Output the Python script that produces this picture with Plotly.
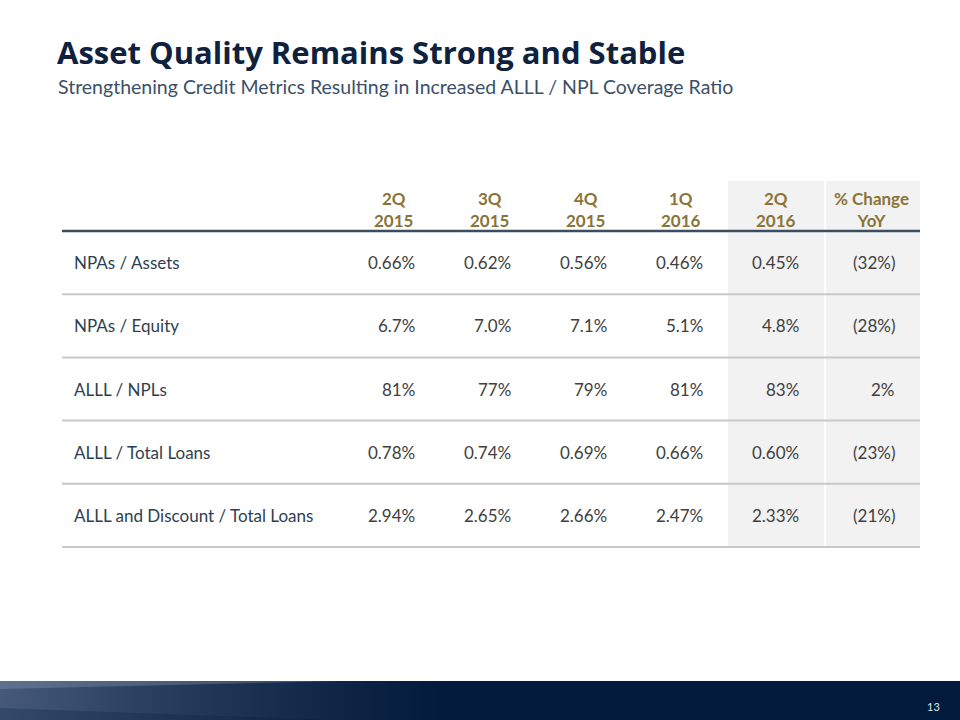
import plotly.graph_objects as go

# ---------------- data ----------------
title = "Asset Quality Remains Strong and Stable"
subtitle = "Strengthening Credit Metrics Resulting in Increased ALLL / NPL Coverage Ratio"
col_top = ["2Q", "3Q", "4Q", "1Q", "2Q", "% Change"]
col_bottom = ["2015", "2015", "2015", "2016", "2016", "YoY"]
row_labels = ["NPAs / Assets", "NPAs / Equity", "ALLL / NPLs",
              "ALLL / Total Loans", "ALLL and Discount / Total Loans"]
q2_2015 = ["0.66%", "6.7%", "81%", "0.78%", "2.94%"]
q3_2015 = ["0.62%", "7.0%", "77%", "0.74%", "2.65%"]
q4_2015 = ["0.56%", "7.1%", "79%", "0.69%", "2.66%"]
q1_2016 = ["0.46%", "5.1%", "81%", "0.66%", "2.47%"]
q2_2016 = ["0.45%", "4.8%", "83%", "0.60%", "2.33%"]
chg_yoy = ["(32%)", "(28%)", "2%", "(23%)", "(21%)"]
page_number = "13"

columns = [q2_2015, q3_2015, q4_2015, q1_2016, q2_2016, chg_yoy]

# ---------------- layout geometry (pixels) ----------------
W, H = 960, 720
FONT = "Lato"
NAVY = "#0e2240"
GOLD = "#8a7437"
TEXT = "#404040"
LABEL = "#2e3f52"
FS = 17

tbl_left, tbl_right = 62, 920
hdr_top, hdr_bot = 181, 231
row_h = 63.2
col_centers = [393, 489, 585, 681, 776, 871]
col_value_right = [417, 513, 609, 705, 801, 897]
shade_cols = [(728, 824), (826, 920)]

shapes = []
annotations = []

# shaded columns
table_bottom = hdr_bot + row_h * len(row_labels)
for x0, x1 in shade_cols:
    shapes.append(dict(type="rect", xref="x", yref="y", x0=x0, x1=x1,
                       y0=hdr_top, y1=table_bottom, fillcolor="#f2f2f2",
                       line=dict(width=0), layer="below"))

# header thick line
shapes.append(dict(type="line", xref="x", yref="y", x0=tbl_left, x1=tbl_right,
                   y0=hdr_bot, y1=hdr_bot, line=dict(color="#3b4d62", width=2.5)))

# row separators
for i in range(len(row_labels)):
    yl = hdr_bot + row_h * (i + 1)
    shapes.append(dict(type="line", xref="x", yref="y", x0=tbl_left, x1=tbl_right,
                       y0=yl, y1=yl, line=dict(color="#c8c8c8", width=2)))

# header text
for c, (t, b) in enumerate(zip(col_top, col_bottom)):
    annotations.append(dict(x=col_centers[c], y=(hdr_top + hdr_bot) / 2 + 3,
                            xref="x", yref="y", text=f"<b>{t}<br>{b}</b>",
                            showarrow=False, xanchor="center", yanchor="middle",
                            align="center",
                            font=dict(family=FONT, size=FS, color=GOLD)))

# rows
for r, lab in enumerate(row_labels):
    yc = hdr_bot + row_h * r + row_h / 2
    annotations.append(dict(x=72, y=yc, xref="x", yref="y", text=lab,
                            showarrow=False, xanchor="left", yanchor="middle",
                            font=dict(family=FONT, size=FS, color=LABEL)))
    for c, col in enumerate(columns):
        annotations.append(dict(x=col_value_right[c], y=yc, xref="x", yref="y",
                                text=col[r], showarrow=False, xanchor="right",
                                yanchor="middle",
                                font=dict(family=FONT, size=FS, color=TEXT)))

# title / subtitle
annotations.append(dict(x=55, y=52, xref="x", yref="y", text=f"<b>{title}</b>",
                        showarrow=False, xanchor="left", yanchor="middle",
                        font=dict(family="Open Sans", size=31, color=NAVY)))
annotations.append(dict(x=56, y=86, xref="x", yref="y", text=subtitle,
                        showarrow=False, xanchor="left", yanchor="middle",
                        font=dict(family=FONT, size=19.5, color="#3b5068")))

# footer band (smooth gradient via heatmap)
foot_top = 681
half = (H - foot_top) / 4
gx = [i * 10 for i in range(97)]
gz_row = [max(0.0, 1 - x / 460) ** 1.3 for x in gx]
fig = go.Figure()
fig.add_trace(go.Heatmap(x=gx, y=[foot_top + half, H - half], z=[gz_row, gz_row],
                         zmin=0, zmax=1, zsmooth="best", showscale=False,
                         hoverinfo="skip",
                         colorscale=[[0, "#021a3b"], [1, "#46597a"]]))
# light streak near top-left and darker lower wedge
shapes.append(dict(type="path", xref="x", yref="y",
                   path=f"M 0 {foot_top} L 340 {foot_top} L 0 {foot_top+8} Z",
                   fillcolor="#9aaabd", opacity=0.3, line=dict(width=0)))
shapes.append(dict(type="path", xref="x", yref="y",
                   path=f"M 0 {foot_top+27} L 330 {H} L 0 {H} Z",
                   fillcolor="#021a3b", opacity=0.25, line=dict(width=0)))
annotations.append(dict(x=933, y=706, xref="x", yref="y", text=page_number,
                        showarrow=False, xanchor="center", yanchor="middle",
                        font=dict(family=FONT, size=11, color="#dfe4ea")))

fig.update_layout(
    width=W, height=H, margin=dict(l=0, r=0, t=0, b=0),
    paper_bgcolor="white", plot_bgcolor="white",
    xaxis=dict(range=[0, W], visible=False, fixedrange=True),
    yaxis=dict(range=[H, 0], visible=False, fixedrange=True),
    shapes=shapes, annotations=annotations, showlegend=False,
)
fig.write_html("out.html", config={"displayModeBar": False},
               post_script="document.body.style.margin='0px';document.body.style.overflow='hidden';")
